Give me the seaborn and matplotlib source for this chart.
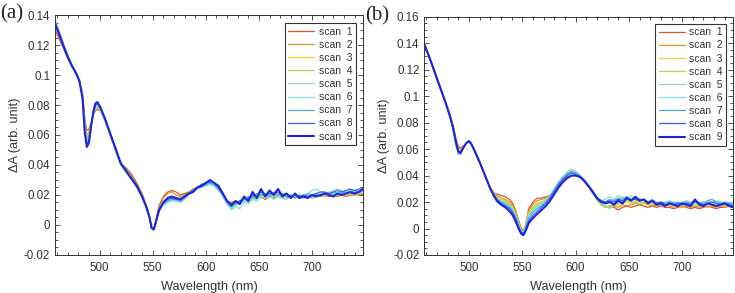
import numpy as np
import pandas as pd
import seaborn as sns
import matplotlib.pyplot as plt
from matplotlib.ticker import MultipleLocator, FuncFormatter

# wavelength grids (nm) - denser around the dips/peaks
wl_a = [458, 462, 466, 470, 474, 478, 481, 484, 486, 488, 490, 492, 494, 496, 498,
        501, 505, 510, 515, 520, 525, 530, 535, 540, 544, 547, 549, 551, 553, 556] + list(range(560, 749, 4))
wl_b = [458, 462, 466, 470, 474, 478, 482, 485, 488, 490, 492, 494, 496, 498, 500, 502,
        505, 510, 515, 520, 523, 526, 530, 534, 538, 541, 544, 547, 549, 551, 553, 556] + list(range(560, 749, 4))

scan_labels = ["scan  %d" % i for i in range(1, 10)]

# ---- panel (a) ----
a_scan1 = [0.130, 0.124, 0.118, 0.111, 0.106, 0.101, 0.096, 0.088, 0.071, 0.063,
           0.064, 0.068, 0.073, 0.076, 0.077, 0.076, 0.070, 0.060, 0.050, 0.041,
           0.038, 0.034, 0.028, 0.021, 0.013, 0.005, -0.002, -0.003, 0.003, 0.013,
           0.019, 0.022, 0.023, 0.022, 0.020, 0.021, 0.022, 0.024, 0.025, 0.027, 0.028, 0.029,
           0.027, 0.025, 0.021, 0.016, 0.015, 0.016, 0.015, 0.017, 0.018, 0.017, 0.018, 0.019,
           0.017, 0.019, 0.018, 0.020, 0.019, 0.020, 0.018, 0.019, 0.018, 0.019, 0.018, 0.019,
           0.020, 0.019, 0.020, 0.019, 0.020, 0.019, 0.020, 0.019, 0.020, 0.020, 0.021, 0.020]
a_scan2 = [0.132, 0.126, 0.119, 0.112, 0.106, 0.101, 0.096, 0.087, 0.069, 0.060,
           0.062, 0.067, 0.073, 0.077, 0.078, 0.076, 0.070, 0.060, 0.050, 0.041,
           0.037, 0.033, 0.027, 0.021, 0.013, 0.005, -0.002, -0.003, 0.003, 0.012,
           0.018, 0.021, 0.022, 0.020, 0.019, 0.020, 0.022, 0.024, 0.025, 0.026, 0.028, 0.029,
           0.028, 0.025, 0.021, 0.016, 0.014, 0.015, 0.016, 0.017, 0.018, 0.017, 0.019, 0.018,
           0.020, 0.019, 0.020, 0.019, 0.020, 0.018, 0.019, 0.020, 0.018, 0.019, 0.019, 0.018,
           0.019, 0.020, 0.019, 0.020, 0.019, 0.020, 0.020, 0.019, 0.020, 0.021, 0.020, 0.021]
a_scan3 = [0.135, 0.127, 0.120, 0.112, 0.106, 0.101, 0.096, 0.086, 0.068, 0.058,
           0.061, 0.067, 0.073, 0.077, 0.078, 0.076, 0.070, 0.060, 0.050, 0.040,
           0.036, 0.031, 0.026, 0.020, 0.013, 0.005, -0.002, -0.003, 0.002, 0.010,
           0.016, 0.018, 0.019, 0.018, 0.018, 0.019, 0.021, 0.023, 0.025, 0.026, 0.027, 0.028,
           0.027, 0.025, 0.021, 0.016, 0.013, 0.015, 0.016, 0.017, 0.016, 0.018, 0.019, 0.020,
           0.018, 0.020, 0.019, 0.021, 0.019, 0.020, 0.018, 0.019, 0.019, 0.018, 0.019, 0.020,
           0.019, 0.020, 0.019, 0.020, 0.021, 0.020, 0.021, 0.020, 0.021, 0.021, 0.022, 0.021]
a_scan4 = [0.136, 0.128, 0.120, 0.113, 0.106, 0.101, 0.096, 0.086, 0.067, 0.057,
           0.060, 0.066, 0.073, 0.078, 0.079, 0.077, 0.070, 0.060, 0.050, 0.040,
           0.035, 0.031, 0.026, 0.019, 0.012, 0.005, -0.002, -0.003, 0.002, 0.010,
           0.015, 0.017, 0.018, 0.017, 0.017, 0.019, 0.021, 0.023, 0.025, 0.026, 0.027, 0.028,
           0.027, 0.024, 0.020, 0.015, 0.013, 0.014, 0.015, 0.017, 0.016, 0.019, 0.018, 0.020,
           0.019, 0.021, 0.019, 0.020, 0.018, 0.019, 0.020, 0.019, 0.018, 0.019, 0.020, 0.019,
           0.020, 0.019, 0.020, 0.021, 0.020, 0.021, 0.020, 0.021, 0.022, 0.021, 0.022, 0.021]
a_scan5 = [0.137, 0.129, 0.121, 0.113, 0.107, 0.101, 0.096, 0.086, 0.066, 0.056,
           0.059, 0.066, 0.073, 0.079, 0.080, 0.077, 0.070, 0.060, 0.050, 0.040,
           0.035, 0.030, 0.025, 0.019, 0.012, 0.005, -0.002, -0.003, 0.002, 0.009,
           0.014, 0.016, 0.017, 0.016, 0.016, 0.018, 0.020, 0.022, 0.024, 0.026, 0.027, 0.028,
           0.026, 0.023, 0.019, 0.015, 0.011, 0.013, 0.014, 0.016, 0.015, 0.018, 0.017, 0.020,
           0.019, 0.018, 0.020, 0.019, 0.018, 0.020, 0.019, 0.018, 0.019, 0.020, 0.021, 0.023,
           0.024, 0.022, 0.021, 0.022, 0.023, 0.024, 0.023, 0.022, 0.023, 0.022, 0.023, 0.022]
a_scan6 = [0.137, 0.129, 0.121, 0.113, 0.107, 0.101, 0.096, 0.086, 0.065, 0.055,
           0.058, 0.066, 0.074, 0.079, 0.080, 0.077, 0.070, 0.060, 0.050, 0.040,
           0.035, 0.030, 0.025, 0.019, 0.012, 0.005, -0.002, -0.003, 0.002, 0.009,
           0.013, 0.015, 0.016, 0.016, 0.015, 0.017, 0.020, 0.022, 0.024, 0.025, 0.026, 0.027,
           0.026, 0.023, 0.019, 0.014, 0.010, 0.012, 0.011, 0.015, 0.014, 0.017, 0.016, 0.019,
           0.018, 0.020, 0.017, 0.019, 0.018, 0.017, 0.019, 0.018, 0.020, 0.018, 0.019, 0.018,
           0.020, 0.019, 0.021, 0.020, 0.021, 0.020, 0.021, 0.022, 0.021, 0.022, 0.021, 0.022]
a_scan7 = [0.136, 0.128, 0.120, 0.113, 0.106, 0.101, 0.096, 0.085, 0.064, 0.054,
           0.057, 0.066, 0.074, 0.080, 0.081, 0.077, 0.071, 0.061, 0.051, 0.041,
           0.036, 0.031, 0.026, 0.019, 0.012, 0.005, -0.002, -0.003, 0.002, 0.010,
           0.014, 0.016, 0.017, 0.017, 0.016, 0.018, 0.021, 0.023, 0.025, 0.026, 0.027, 0.028,
           0.027, 0.024, 0.020, 0.015, 0.012, 0.014, 0.015, 0.017, 0.019, 0.018, 0.021, 0.020,
           0.021, 0.019, 0.022, 0.020, 0.021, 0.019, 0.020, 0.018, 0.020, 0.019, 0.021, 0.020,
           0.021, 0.019, 0.021, 0.020, 0.022, 0.021, 0.022, 0.021, 0.022, 0.023, 0.022, 0.023]
a_scan8 = [0.135, 0.128, 0.120, 0.112, 0.106, 0.101, 0.096, 0.085, 0.063, 0.053,
           0.056, 0.066, 0.075, 0.080, 0.081, 0.078, 0.071, 0.061, 0.051, 0.041,
           0.036, 0.031, 0.026, 0.019, 0.012, 0.005, -0.002, -0.003, 0.002, 0.010,
           0.015, 0.017, 0.018, 0.017, 0.017, 0.019, 0.021, 0.023, 0.025, 0.027, 0.028, 0.029,
           0.028, 0.025, 0.021, 0.016, 0.014, 0.015, 0.016, 0.018, 0.017, 0.020, 0.019, 0.022,
           0.020, 0.021, 0.021, 0.022, 0.020, 0.021, 0.019, 0.020, 0.019, 0.020, 0.019, 0.020,
           0.021, 0.022, 0.022, 0.021, 0.022, 0.023, 0.022, 0.023, 0.024, 0.023, 0.024, 0.024]
a_scan9 = [0.134, 0.127, 0.119, 0.112, 0.106, 0.101, 0.096, 0.084, 0.062, 0.052,
           0.055, 0.066, 0.075, 0.081, 0.082, 0.078, 0.071, 0.061, 0.051, 0.041,
           0.036, 0.031, 0.026, 0.019, 0.012, 0.005, -0.002, -0.003, 0.002, 0.010,
           0.015, 0.018, 0.019, 0.018, 0.017, 0.019, 0.021, 0.022, 0.025, 0.026, 0.028, 0.030,
           0.028, 0.026, 0.021, 0.016, 0.013, 0.016, 0.014, 0.019, 0.016, 0.022, 0.018, 0.024,
           0.019, 0.023, 0.020, 0.024, 0.019, 0.021, 0.018, 0.021, 0.018, 0.019, 0.018, 0.020,
           0.019, 0.020, 0.021, 0.020, 0.019, 0.021, 0.020, 0.021, 0.022, 0.021, 0.022, 0.024]

# ---- panel (b) ----
b_scan1 = [0.138, 0.131, 0.122, 0.113, 0.104, 0.095, 0.086, 0.078, 0.067, 0.062,
           0.061, 0.062, 0.063, 0.065, 0.066, 0.064, 0.059, 0.050, 0.040, 0.031,
           0.027, 0.026, 0.025, 0.024, 0.022, 0.019, 0.013, 0.005, 0.000, -0.002,
           0.002, 0.015,
           0.020, 0.023, 0.023, 0.024, 0.025, 0.028, 0.033, 0.036, 0.039, 0.040, 0.040, 0.039,
           0.036, 0.032, 0.027, 0.022, 0.018, 0.016, 0.017, 0.016, 0.014, 0.016, 0.017, 0.016,
           0.017, 0.018, 0.017, 0.016, 0.017, 0.016, 0.017, 0.016, 0.016, 0.015, 0.016, 0.017,
           0.016, 0.015, 0.016, 0.015, 0.016, 0.017, 0.016, 0.015, 0.016, 0.016, 0.017, 0.016]
b_scan2 = [0.138, 0.131, 0.122, 0.113, 0.104, 0.095, 0.086, 0.077, 0.066, 0.061,
           0.060, 0.061, 0.063, 0.065, 0.066, 0.064, 0.059, 0.050, 0.040, 0.031,
           0.027, 0.025, 0.023, 0.022, 0.020, 0.017, 0.012, 0.004, -0.001, -0.002,
           0.002, 0.013,
           0.018, 0.021, 0.022, 0.023, 0.025, 0.029, 0.034, 0.038, 0.041, 0.042, 0.041, 0.039,
           0.036, 0.032, 0.027, 0.022, 0.018, 0.017, 0.016, 0.017, 0.016, 0.018, 0.017, 0.018,
           0.019, 0.018, 0.019, 0.018, 0.017, 0.018, 0.017, 0.018, 0.017, 0.016, 0.017, 0.016,
           0.017, 0.016, 0.017, 0.016, 0.017, 0.016, 0.017, 0.016, 0.017, 0.016, 0.017, 0.016]
b_scan3 = [0.139, 0.131, 0.122, 0.113, 0.104, 0.095, 0.085, 0.076, 0.064, 0.059,
           0.059, 0.061, 0.063, 0.065, 0.066, 0.064, 0.059, 0.050, 0.040, 0.030,
           0.027, 0.024, 0.022, 0.021, 0.019, 0.016, 0.011, 0.003, -0.002, -0.003,
           0.002, 0.012,
           0.016, 0.019, 0.020, 0.022, 0.025, 0.030, 0.035, 0.039, 0.042, 0.043, 0.042, 0.040,
           0.037, 0.033, 0.028, 0.022, 0.018, 0.017, 0.016, 0.017, 0.018, 0.019, 0.020, 0.019,
           0.020, 0.019, 0.020, 0.019, 0.018, 0.019, 0.018, 0.019, 0.018, 0.017, 0.018, 0.017,
           0.018, 0.017, 0.018, 0.017, 0.018, 0.017, 0.018, 0.017, 0.018, 0.017, 0.018, 0.017]
b_scan4 = [0.140, 0.131, 0.122, 0.113, 0.104, 0.095, 0.085, 0.076, 0.063, 0.058,
           0.058, 0.060, 0.063, 0.065, 0.066, 0.064, 0.059, 0.050, 0.040, 0.030,
           0.026, 0.023, 0.021, 0.020, 0.018, 0.015, 0.010, 0.003, -0.002, -0.003,
           0.002, 0.011,
           0.015, 0.018, 0.020, 0.021, 0.025, 0.030, 0.035, 0.039, 0.042, 0.044, 0.043, 0.040,
           0.037, 0.033, 0.028, 0.022, 0.018, 0.016, 0.017, 0.018, 0.019, 0.020, 0.021, 0.020,
           0.021, 0.020, 0.019, 0.020, 0.019, 0.018, 0.019, 0.018, 0.019, 0.018, 0.018, 0.019,
           0.018, 0.019, 0.018, 0.019, 0.018, 0.019, 0.018, 0.019, 0.018, 0.018, 0.019, 0.018]
b_scan5 = [0.141, 0.131, 0.122, 0.113, 0.104, 0.095, 0.085, 0.075, 0.062, 0.056,
           0.056, 0.060, 0.063, 0.065, 0.066, 0.064, 0.059, 0.050, 0.040, 0.030,
           0.026, 0.023, 0.021, 0.019, 0.017, 0.014, 0.009, 0.002, -0.002, -0.003,
           0.001, 0.010,
           0.014, 0.017, 0.019, 0.021, 0.025, 0.030, 0.035, 0.039, 0.043, 0.045, 0.043, 0.040,
           0.037, 0.033, 0.028, 0.023, 0.019, 0.017, 0.015, 0.019, 0.021, 0.024, 0.022, 0.025,
           0.022, 0.023, 0.021, 0.020, 0.021, 0.019, 0.020, 0.019, 0.020, 0.019, 0.018, 0.019,
           0.020, 0.019, 0.020, 0.019, 0.020, 0.019, 0.020, 0.019, 0.020, 0.019, 0.018, 0.019]
b_scan6 = [0.140, 0.131, 0.122, 0.113, 0.104, 0.095, 0.085, 0.075, 0.062, 0.056,
           0.056, 0.060, 0.063, 0.065, 0.066, 0.064, 0.059, 0.050, 0.040, 0.030,
           0.026, 0.023, 0.020, 0.019, 0.017, 0.014, 0.009, 0.002, -0.002, -0.003,
           0.001, 0.009,
           0.013, 0.016, 0.018, 0.021, 0.025, 0.030, 0.035, 0.039, 0.042, 0.044, 0.043, 0.040,
           0.037, 0.033, 0.028, 0.024, 0.021, 0.022, 0.024, 0.022, 0.025, 0.023, 0.024, 0.022,
           0.023, 0.021, 0.022, 0.020, 0.021, 0.020, 0.019, 0.020, 0.021, 0.020, 0.019, 0.020,
           0.021, 0.020, 0.021, 0.019, 0.020, 0.021, 0.020, 0.021, 0.020, 0.019, 0.020, 0.019]
b_scan7 = [0.140, 0.131, 0.122, 0.113, 0.104, 0.095, 0.085, 0.075, 0.063, 0.057,
           0.057, 0.060, 0.063, 0.065, 0.066, 0.064, 0.059, 0.050, 0.040, 0.030,
           0.026, 0.022, 0.020, 0.018, 0.016, 0.013, 0.008, 0.001, -0.003, -0.004,
           0.000, 0.008,
           0.012, 0.015, 0.017, 0.020, 0.024, 0.029, 0.034, 0.038, 0.041, 0.043, 0.042, 0.040,
           0.037, 0.032, 0.027, 0.023, 0.021, 0.020, 0.022, 0.021, 0.023, 0.022, 0.024, 0.021,
           0.023, 0.022, 0.021, 0.020, 0.022, 0.019, 0.020, 0.019, 0.020, 0.019, 0.020, 0.019,
           0.020, 0.019, 0.021, 0.020, 0.019, 0.021, 0.022, 0.020, 0.019, 0.020, 0.019, 0.018]
b_scan8 = [0.139, 0.131, 0.122, 0.113, 0.104, 0.095, 0.085, 0.076, 0.064, 0.058,
           0.058, 0.060, 0.063, 0.065, 0.066, 0.064, 0.059, 0.050, 0.040, 0.030,
           0.026, 0.022, 0.019, 0.017, 0.015, 0.012, 0.007, 0.000, -0.003, -0.004,
           -0.001, 0.006,
           0.010, 0.013, 0.016, 0.019, 0.023, 0.028, 0.033, 0.037, 0.040, 0.042, 0.041, 0.039,
           0.036, 0.032, 0.027, 0.023, 0.021, 0.020, 0.021, 0.020, 0.022, 0.021, 0.023, 0.022,
           0.022, 0.021, 0.022, 0.020, 0.021, 0.019, 0.020, 0.018, 0.019, 0.018, 0.019, 0.018,
           0.019, 0.018, 0.020, 0.019, 0.018, 0.019, 0.020, 0.019, 0.018, 0.019, 0.018, 0.017]
b_scan9 = [0.139, 0.131, 0.122, 0.113, 0.104, 0.095, 0.085, 0.076, 0.064, 0.058,
           0.057, 0.060, 0.063, 0.065, 0.066, 0.064, 0.059, 0.050, 0.040, 0.030,
           0.025, 0.021, 0.018, 0.016, 0.013, 0.010, 0.005, -0.001, -0.004, -0.005,
           -0.002, 0.004,
           0.008, 0.011, 0.014, 0.017, 0.021, 0.026, 0.031, 0.035, 0.038, 0.040, 0.040, 0.039,
           0.036, 0.032, 0.028, 0.023, 0.020, 0.019, 0.020, 0.018, 0.021, 0.019, 0.023, 0.021,
           0.024, 0.021, 0.022, 0.019, 0.021, 0.018, 0.019, 0.017, 0.019, 0.018, 0.017, 0.019,
           0.018, 0.017, 0.022, 0.018, 0.017, 0.019, 0.018, 0.017, 0.018, 0.019, 0.017, 0.016]

scans_a = [a_scan1, a_scan2, a_scan3, a_scan4, a_scan5, a_scan6, a_scan7, a_scan8, a_scan9]
scans_b = [b_scan1, b_scan2, b_scan3, b_scan4, b_scan5, b_scan6, b_scan7, b_scan8, b_scan9]

# jet-like colours, red -> blue
colors = ['#d6552a', '#dc962e', '#e4cf34', '#b3d64e', '#90deb0', '#80dde2', '#4ba6ee', '#3a5cf0', '#1c26dc']
widths = [0.9, 0.9, 0.9, 0.9, 0.9, 0.9, 0.9, 0.9, 1.5]

sns.set_theme(style="ticks")
plt.rcParams['font.family'] = ['Liberation Sans', 'DejaVu Sans']
ink = '#333333'

fig = plt.figure(figsize=(7.35, 2.93), dpi=100)
ax_a = fig.add_axes([0.0748, 0.1297, 0.4191, 0.8191])
ax_b = fig.add_axes([0.5773, 0.1297, 0.4204, 0.8133])


def draw_panel(ax, wl, scans, ylim, leg_anchor):
    for lab, vals, col, lw in zip(scan_labels, scans, colors, widths):
        sns.lineplot(x=wl, y=vals, color=col, linewidth=lw, label=lab, ax=ax)
    ax.set_xlim(458, 748)
    ax.set_ylim(*ylim)
    ax.xaxis.set_major_locator(MultipleLocator(50))
    ax.xaxis.set_minor_locator(MultipleLocator(10))
    ax.yaxis.set_major_locator(MultipleLocator(0.02))
    ax.yaxis.set_minor_locator(MultipleLocator(0.005))
    ax.yaxis.set_major_formatter(FuncFormatter(lambda v, p: "%g" % round(v, 3)))
    ax.tick_params(which='both', direction='in', top=True, right=True, colors=ink,
                   width=0.6, labelsize=8.3)
    ax.tick_params(which='major', length=3.5)
    ax.tick_params(which='minor', length=2)
    ax.tick_params(axis='x', pad=5)
    for s in ax.spines.values():
        s.set_color(ink)
        s.set_linewidth(0.7)
    ax.set_xlabel("Wavelength (nm)", fontsize=9.2, color=ink, labelpad=5)
    ax.set_ylabel("ΔA (arb. unit)", fontsize=9.2, color=ink, labelpad=2)
    leg = ax.legend(loc='upper right', bbox_to_anchor=leg_anchor, borderaxespad=0,
                    fontsize=7.5, frameon=True, fancybox=False, framealpha=1,
                    edgecolor=ink, handlelength=2.5, handletextpad=0.4,
                    labelspacing=0.3, borderpad=0.35)
    leg.get_frame().set_linewidth(0.8)
    for t in leg.get_texts():
        t.set_color(ink)


draw_panel(ax_a, wl_a, scans_a, (-0.02, 0.14), (0.977, 0.967))
draw_panel(ax_b, wl_b, scans_b, (-0.02, 0.16), (0.977, 0.971))

fig.text(0.0, 0.953, "(a)", family='Liberation Serif', fontsize=15, va='center', ha='left')
fig.text(0.497, 0.947, "(b)", family='Liberation Serif', fontsize=15, va='center', ha='left')

fig.savefig("out.png", dpi=100)
